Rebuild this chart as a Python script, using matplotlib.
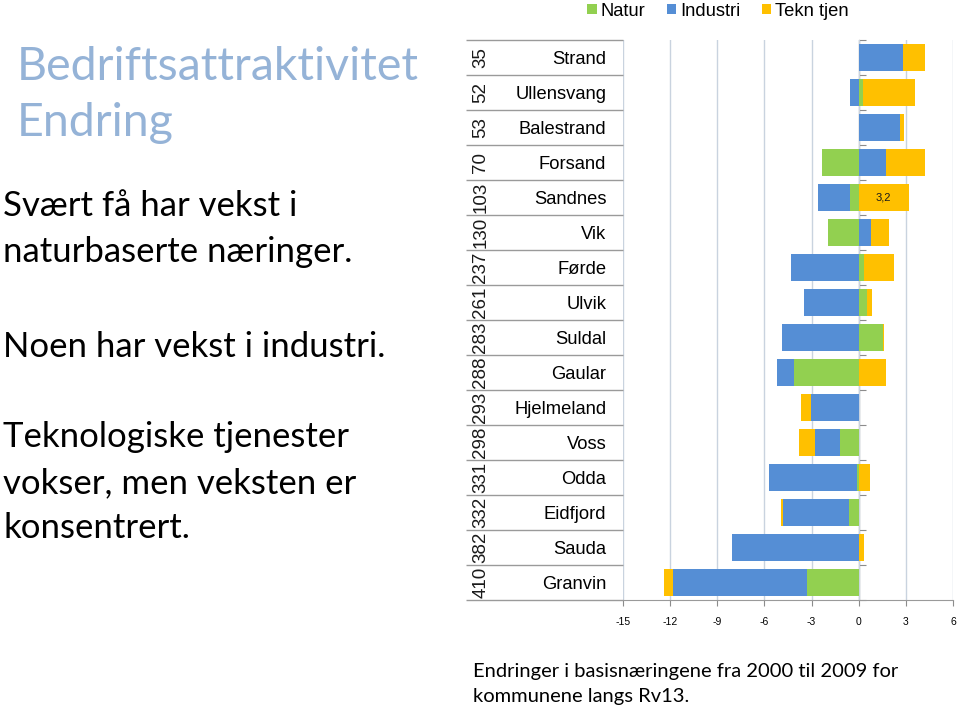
import numpy as np
import matplotlib
matplotlib.use("Agg")
import matplotlib.pyplot as plt
from matplotlib.patches import Patch

# ---------------- data ----------------
categories = ["Strand", "Ullensvang", "Balestrand", "Forsand", "Sandnes", "Vik",
              "Førde", "Ulvik", "Suldal", "Gaular", "Hjelmeland", "Voss",
              "Odda", "Eidfjord", "Sauda", "Granvin"]
ranks = ["35", "52", "53", "70", "103", "130", "237", "261", "283", "288",
         "293", "298", "331", "332", "382", "410"]
natur = [0.0, 0.25, 0.0, -2.31, -0.53, -1.93, 0.36, 0.53, 1.53, -4.13,
         0.0, -1.21, -0.13, -0.59, 0.0, -3.26]
industri = [2.84, -0.55, 2.61, 1.74, -2.06, 0.81, -4.28, -3.46, -4.90, -1.04,
            -3.01, -1.57, -5.55, -4.20, -8.08, -8.56]
tekn = [1.40, 3.31, 0.30, 2.50, 3.18, 1.12, 1.91, 0.30, 0.10, 1.72,
        -0.68, -1.02, 0.74, -0.17, 0.32, -0.59]
series_names = ["Natur", "Industri", "Tekn tjen"]
series_colors = ["#92D050", "#558ED5", "#FFC000"]
xticks = [-15, -12, -9, -6, -3, 0, 3, 6]
data_label = {"Sandnes": "3,2"}   # only labelled value (Tekn tjen)

# ---------------- figure ----------------
W, H = 959, 716
fig = plt.figure(figsize=(W / 100, H / 100), dpi=100)
fig.patch.set_facecolor("white")

ax_l, ax_r, ax_t, ax_b = 623, 953, 40, 600
col_l = 466
ax = fig.add_axes([ax_l / W, 1 - ax_b / H, (ax_r - ax_l) / W, (ax_b - ax_t) / H])
axc = fig.add_axes([col_l / W, 1 - ax_b / H, (ax_l - col_l) / W, (ax_b - ax_t) / H])

chart_font = "Liberation Sans"
n = len(categories)
y = np.arange(n)
pos = np.zeros(n)
neg = np.zeros(n)
containers = []
for vals, name, col in zip([natur, industri, tekn], series_names, series_colors):
    v = np.array(vals)
    left = np.where(v >= 0, pos, neg)
    c = ax.barh(y, v, left=left, height=0.76, color=col, label=name, zorder=3)
    containers.append(c)
    pos = pos + np.where(v >= 0, v, 0)
    neg = neg + np.where(v < 0, v, 0)

labels = [data_label.get(cat, "") for cat in categories]
ax.bar_label(containers[2], labels=labels, label_type="center",
             fontsize=8, family=chart_font, color="#1a1a1a", zorder=4)

ax.set_xlim(xticks[0], xticks[-1])
ax.set_ylim(n - 0.5, -0.5)
ax.set_xticks(xticks)
ax.set_xticklabels([str(t) for t in xticks], family=chart_font, fontsize=7.5)
ax.tick_params(axis="x", length=4, width=0.8, color="#8c8c8c", pad=8)
ax.set_yticks(y)
ax.set_yticklabels(categories, family=chart_font, fontsize=13.2)
ax.tick_params(axis="y", length=0, pad=12)

ax.grid(axis="x", color="#c9d3df", linewidth=1.0, zorder=0)
for s in ["top", "right", "left"]:
    ax.spines[s].set_visible(False)
ax.spines["bottom"].set_color("#9a9a9a")
ax.spines["bottom"].set_zorder(5)

# zero line with category-boundary ticks
zero_loc = (0 - xticks[0]) / (xticks[-1] - xticks[0])
sec = ax.secondary_yaxis(zero_loc)
sec.set_yticks(np.arange(n + 1) - 0.5)
sec.set_yticklabels([])
sec.tick_params(length=5, width=0.8, color="#8c8c8c", direction="out")
sec.spines["left"].set_color("#8c8c8c")
sec.spines["left"].set_linewidth(1.0)

# rank / category column with separators
axc.set_xlim(0, 1)
axc.set_ylim(n - 0.5, -0.5)
axc.axis("off")
axc.hlines(np.arange(n + 1) - 0.5, 0, 1, color="#9a9a9a", lw=1.0, clip_on=False)
for yi, r in zip(y, ranks):
    axc.text(0.095, yi, r, rotation=90, ha="center", va="center",
             fontsize=13.5, family=chart_font, color="#1a1a1a")

# legend
handles = [Patch(facecolor=c, edgecolor="none") for c in series_colors]
fig.legend(handles, series_names, loc="center", bbox_to_anchor=(718 / W, 1 - 11 / H),
           ncol=3, frameon=False, prop={"family": chart_font, "size": 13.2},
           handlelength=0.5, handleheight=0.5, handletextpad=0.2, columnspacing=1.2,
           borderpad=0, borderaxespad=0)

# left-hand text
body_font = "Lato"
def ftext(x, yb, s, size, color="black"):
    fig.text(x / W, 1 - yb / H, s, fontsize=size, family=body_font, color=color,
             ha="left", va="baseline")

ftext(17, 80, "Bedriftsattraktivitet", 33.5, "#95B3D7")
ftext(17, 136, "Endring", 33.5, "#95B3D7")
body = [(216, "Svært få har vekst i"), (262, "naturbaserte næringer."),
        (357, "Noen har vekst i industri."),
        (447, "Teknologiske tjenester"), (493, "vokser, men veksten er"),
        (538, "konsentrert.")]
for yb, s in body:
    ftext(3, yb, s, 25)

ftext(473, 677, "Endringer i basisnæringene fra 2000 til 2009 for", 14.5)
ftext(473, 702, "kommunene langs Rv13.", 14.5)

fig.savefig("out.png", dpi=100)
